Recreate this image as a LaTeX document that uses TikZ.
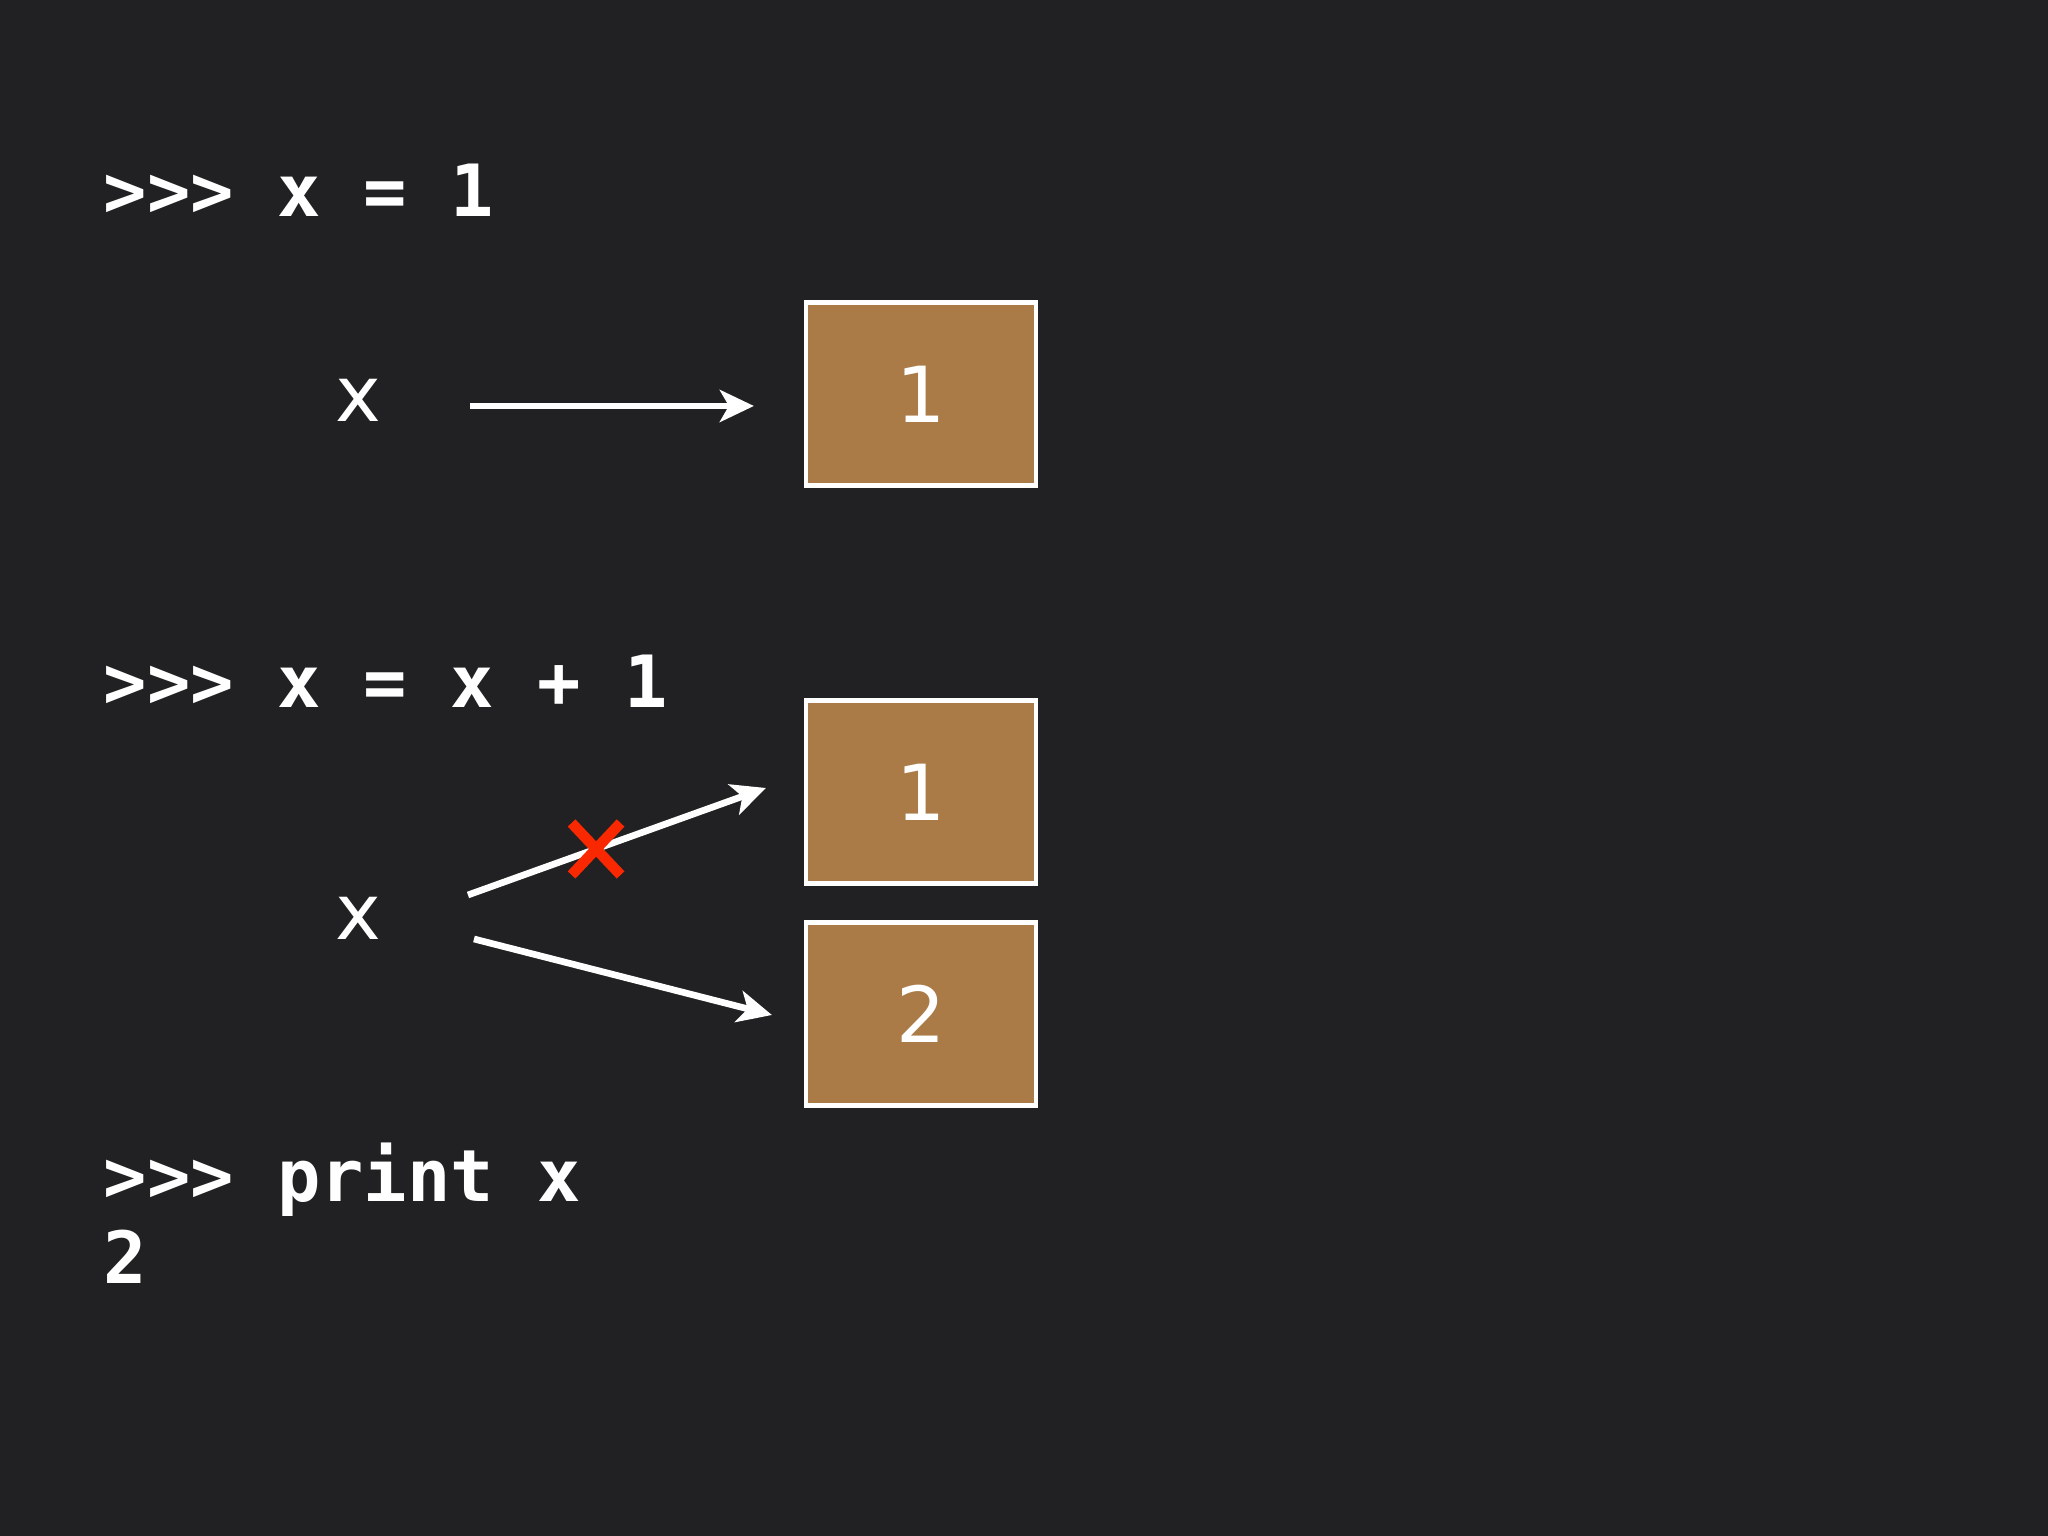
\documentclass[tikz,border=0pt]{standalone}
\usepackage{fontspec}
\setmainfont{DejaVu Sans}
\newfontfamily\codefont{DejaVu Sans Mono}
\usepackage{tikz}
\usetikzlibrary{arrows.meta,positioning,shapes.misc}
\definecolor{slate}{RGB}{33,33,35}
\definecolor{cellbrown}{RGB}{170,123,71}
\definecolor{crossred}{RGB}{250,40,0}
\tikzstyle{prompt} = [anchor=base west,inner sep=0,text=white,font=\codefont\bfseries\fontsize{20.5}{24}\selectfont]
\tikzstyle{var} = [inner sep=0,text=white,font=\fontsize{22}{26}\selectfont]
\tikzstyle{cell} = [draw=white,line width=1.2pt,fill=cellbrown,minimum width=2.3cm,minimum height=1.83cm,text=white,font=\fontsize{22}{26}\selectfont]
\tikzstyle{ref} = [white,line width=1.9pt,-{Stealth[length=3.4mm,width=3.2mm,inset=0.9mm]}]
\tikzstyle{veto} = [cross out,draw=crossred,line width=3pt,minimum width=0.49cm,minimum height=0.52cm,inner sep=0,outer sep=0]

\begin{document}
\begin{tikzpicture}

        \useasboundingbox (0,0) rectangle (20.48,15.36);
        \fill[slate] (0,0) rectangle (20.48,15.36);

        % First statement: x bound to 1
        \node[prompt] (cmd1) at (1.03,13.19) {>>> x = 1};
        \node[var] (xa) at (3.58,11.36) {x};
        \node[cell] (one) at (9.21,11.42) {1};
        \coordinate (s1) at ([shift={(1.12,-0.06)}]xa.center);
        \coordinate (t1) at ([shift={(-0.50,-0.12)}]one.west);
        \draw[ref] (s1) -- (t1);                        % x -> 1

        % Second statement: x rebound to a new object
        \node[prompt] (cmd2) at (1.03,8.28) {>>> x = x + 1};
        \node[var] (xb) at (3.58,6.18) {x};
        \node[cell] (oldone) at (9.21,7.44) {1};
        \node[cell] (two) at (9.21,5.22) {2};
        \coordinate (s2) at ([shift={(1.10,0.23)}]xb.center);
        \coordinate (t2) at ([shift={(-0.38,0.04)}]oldone.west);
        \coordinate (s3) at ([shift={(1.16,-0.21)}]xb.center);
        \coordinate (t3) at ([shift={(-0.32,-0.01)}]two.west);
        \draw[ref] (s2) -- node[veto,pos=0.43] (cut) {} (t2);   % old reference, crossed out
        \draw[ref] (s3) -- (t3);                        % x -> 2

        % Third statement and its output
        \node[prompt] (cmd3) at (1.03,3.34) {>>> print x};
        \node[prompt] (out) at ([yshift=-0.82cm]cmd3.base west) {2};

\end{tikzpicture}
\end{document}
